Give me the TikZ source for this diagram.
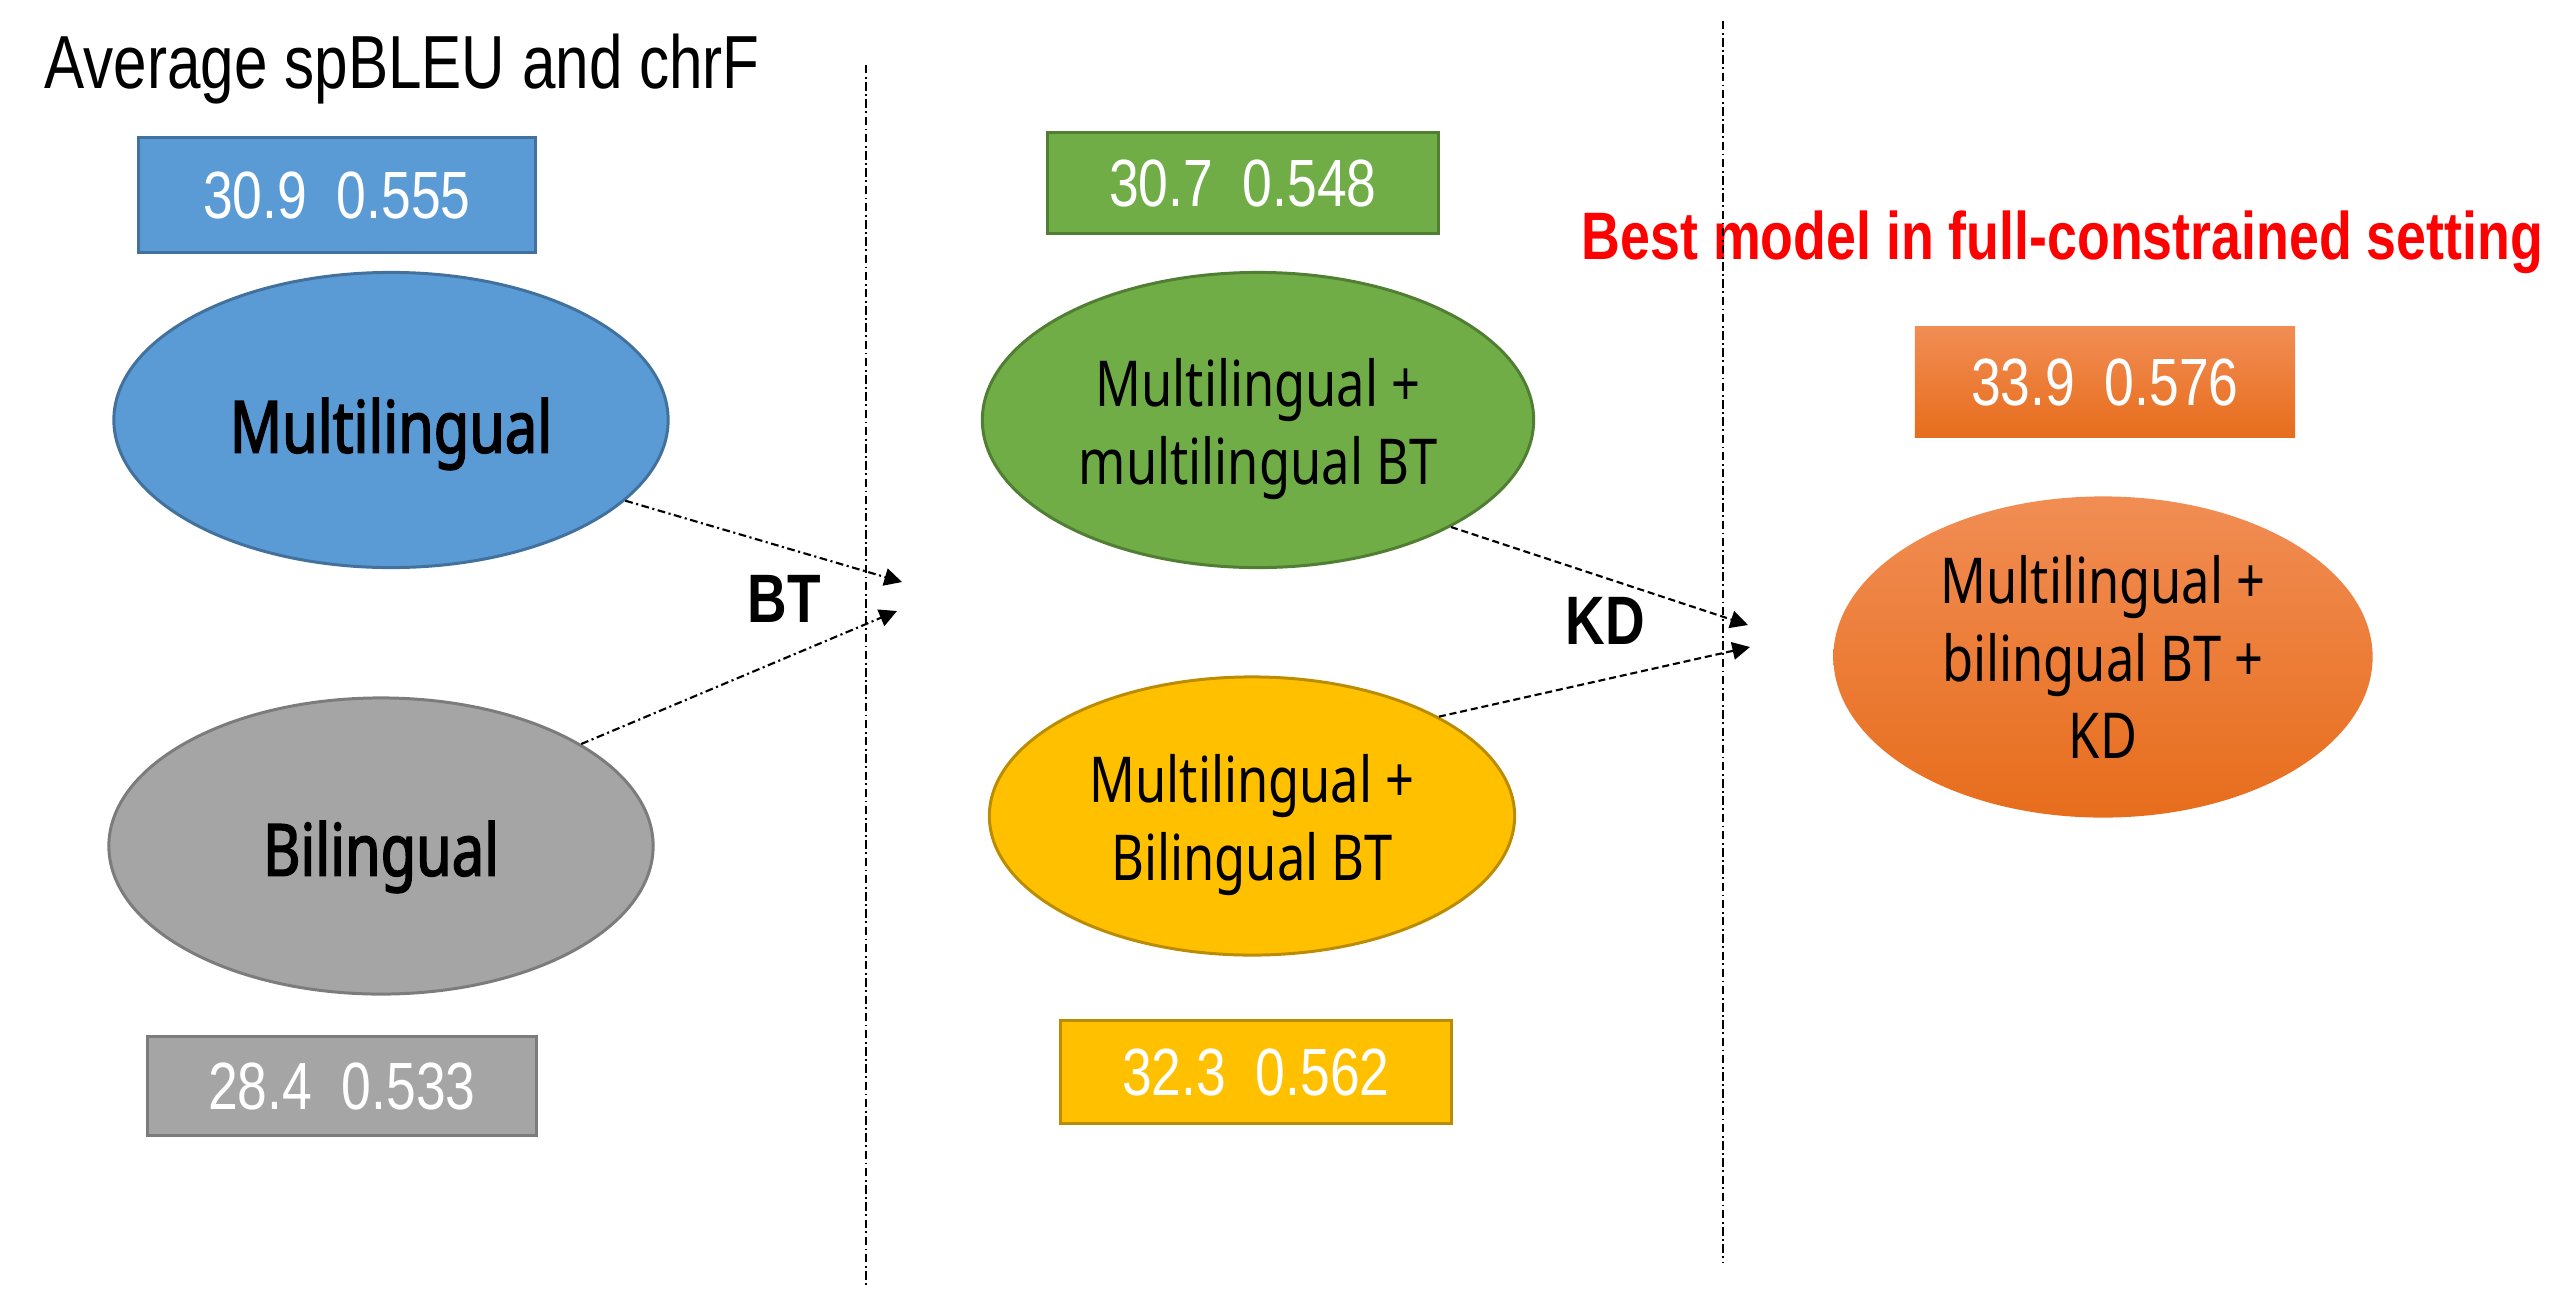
\documentclass[tikz,border=0pt]{standalone}
\usepackage{fontspec}
\newfontfamily\narrowsans[FakeStretch=0.8]{Liberation Sans}
\newfontfamily\modelsans[FakeStretch=0.8]{Noto Sans}
\newfontfamily\modelsansbold[FakeStretch=0.8,FakeBold=2.2]{Noto Sans}
\usetikzlibrary{
  arrows.meta,
  shapes.geometric
}
\definecolor{multiblue}{HTML}{5B9BD5}
\definecolor{multiblueline}{HTML}{41719C}
\definecolor{bigray}{HTML}{A5A5A5}
\definecolor{bigrayline}{HTML}{7C7C7C}
\definecolor{btgreen}{HTML}{70AD47}
\definecolor{btgreenline}{HTML}{507E32}
\definecolor{biyellow}{HTML}{FFC000}
\definecolor{biyellowline}{HTML}{BC8C00}
\definecolor{besttop}{HTML}{F18D54}
\definecolor{bestbottom}{HTML}{E76D1C}
\tikzset{
  % For the trained models.
  model/.style={
    ellipse,
    line width=0.85pt,
    inner sep=0pt,
    align=center,
    font=\modelsans\fontsize{18}{22}\selectfont},
%
  % For the baselines, whose names are set in bold.
  baseline model/.style={
    model,
    font=\modelsansbold\fontsize{20.5}{24}\selectfont},
%
  % For the spBLEU / chrF scores.
  score box/.style={
    rectangle,
    line width=0.85pt,
    inner sep=0pt,
    text=white,
    font=\narrowsans\fontsize{19}{22}\selectfont},
%
  % For the step names between the columns.
  method label/.style={
    font=\narrowsans\bfseries\fontsize{19.5}{22}\selectfont},
%
  % For free-standing headings.
  heading/.style={
    anchor=base west,
    inner sep=0pt},
%
  % For the column separators.
  divider/.style={
    line width=0.5pt,
    dash pattern=on 2.4pt off 1pt on 0.5pt off 1pt},
%
  % For back-translation steps.
  bt arrow/.style={
    line width=0.6pt,
    dash pattern=on 2.2pt off 1pt on 0.6pt off 1pt,
    -{Triangle[length=5pt,width=5pt]}},
%
  % For distillation steps.
  kd arrow/.style={
    line width=0.6pt,
    dash pattern=on 2pt off 1.1pt,
    -{Triangle[length=5pt,width=5pt]}},
}

\begin{document}
\begin{tikzpicture}[x=0.01cm, y=-0.01cm]
  \useasboundingbox (0,0) rectangle (2556,1290);

  \node[heading, font=\narrowsans\fontsize{21.4}{24}\selectfont]
    (title) at (44,88) {Average spBLEU and chrF};

  % first column: the two baselines
  % (a taller text box pushes the label a little below the centre)
  \node[baseline model, fill=multiblue, draw=multiblueline,
        minimum width=5.54cm, minimum height=2.95cm, text height=23.5pt]
    (multi) at (391,420) {Multilingual};
  \node[baseline model, fill=bigray, draw=bigrayline,
        minimum width=5.44cm, minimum height=2.96cm, text height=21.8pt]
    (bi) at (381,846) {Bilingual};

  \node[score box, fill=multiblue, draw=multiblueline,
        minimum width=3.97cm, minimum height=1.15cm]
    (multiscore) at (337,195) {30.9~~0.555};
  \node[score box, fill=bigray, draw=bigrayline,
        minimum width=3.88cm, minimum height=0.99cm]
    (biscore) at (342,1086) {28.4~~0.533};

  % second column: back-translation
  \node[model, fill=btgreen, draw=btgreenline,
        minimum width=5.51cm, minimum height=2.95cm, text height=40.9pt]
    (multibt) at (1258,420) {Multilingual +\\multilingual BT};
  \node[model, fill=biyellow, draw=biyellowline,
        minimum width=5.25cm, minimum height=2.78cm, text height=40.9pt]
    (bibt) at (1252,816) {Multilingual +\\Bilingual BT};

  \node[score box, fill=btgreen, draw=btgreenline,
        minimum width=3.90cm, minimum height=1.01cm]
    (multibtscore) at (1243,183) {30.7~~0.548};
  \node[score box, fill=biyellow, draw=biyellowline,
        minimum width=3.90cm, minimum height=1.03cm]
    (bibtscore) at (1256,1072) {32.3~~0.562};

  % third column: distillation
  \node[model, top color=besttop, bottom color=bestbottom,
        minimum width=5.39cm, minimum height=3.21cm]
    (best) at (2103,657) {Multilingual +\\bilingual BT +\\KD};
  \node[score box, top color=besttop, bottom color=bestbottom,
        minimum width=3.80cm, minimum height=1.10cm]
    (bestscore) at (2105,382) {33.9~~0.576};

  \node[heading, text=red,
        font=\narrowsans\bfseries\fontsize{19.1}{24}\selectfont]
    (bestnote) at (1581,259) {Best model in full-constrained setting};

  % column separators
  \coordinate (sepAtop) at (866,65);
  \coordinate (sepAbot) at (866,1288);
  \coordinate (sepBtop) at (1723,21);
  \coordinate (sepBbot) at (1723,1263);
  \draw[divider] (sepAtop) -- (sepAbot);
  \draw[divider] (sepBtop) -- (sepBbot);

  % arrow tips stop just past the separators
  \coordinate (btA) at (902,582);
  \coordinate (btB) at (897,611);
  \coordinate (kdA) at (1748,625);
  \coordinate (kdB) at (1750,647);

  \draw[bt arrow] (multi.-19) -- (btA);
  \draw[bt arrow] (bi.27) -- (btB);
  \draw[kd arrow] (multibt.-29) -- (kdA);
  \draw[kd arrow] (bibt.28) -- (kdB);

  \node[method label] (bt) at (784,599) {BT};
  \node[method label] (kd) at (1605,621) {KD};
\end{tikzpicture}
\end{document}
